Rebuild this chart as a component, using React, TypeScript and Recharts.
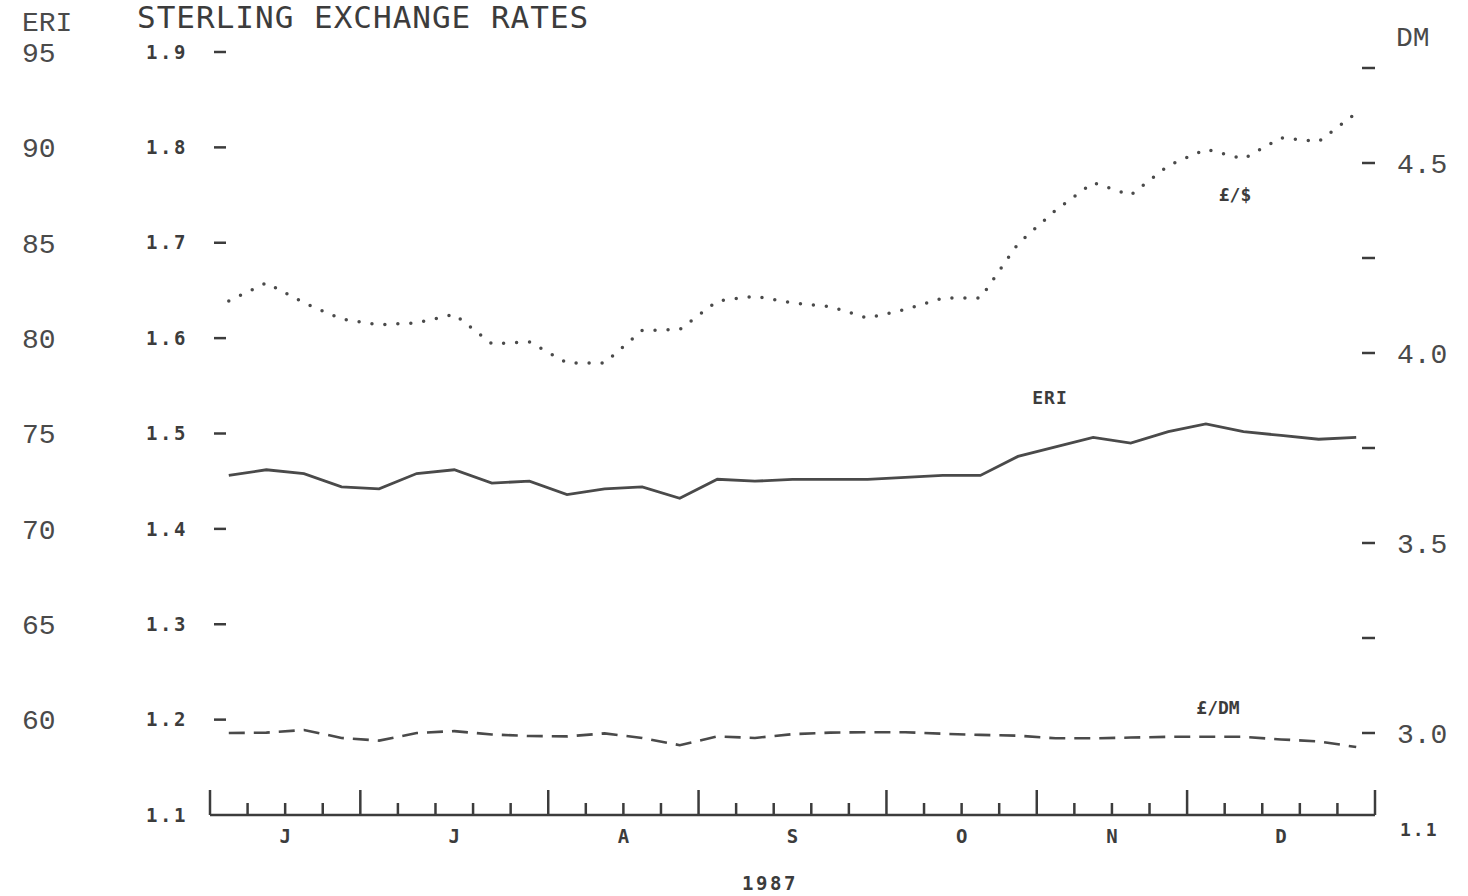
import React from 'react';
import { LineChart, Line, XAxis, YAxis } from 'recharts';

// weekly readings, June - December 1987
const weeks = [1, 2, 3, 4, 5, 6, 7, 8, 9, 10, 11, 12, 13, 14, 15, 16, 17, 18, 19, 20, 21, 22, 23, 24, 25, 26, 27, 28, 29, 30, 31];

const eriIndex = [
  72.8, 73.1, 72.9, 72.2, 72.1, 72.9, 73.1, 72.4, 72.5, 71.8, 72.1, 72.2, 71.6, 72.6, 72.5, 72.6,
  72.6, 72.6, 72.7, 72.8, 72.8, 73.8, 74.3, 74.8, 74.5, 75.1, 75.5, 75.1, 74.9, 74.7, 74.8,
];

const poundDollar = [
  1.639, 1.658, 1.637, 1.62, 1.614, 1.616, 1.625, 1.594, 1.596, 1.574, 1.574, 1.608, 1.609, 1.639, 1.644, 1.637,
  1.633, 1.621, 1.63, 1.642, 1.642, 1.699, 1.734, 1.763, 1.75, 1.781, 1.798, 1.788, 1.81, 1.806, 1.836,
];

const poundMark = [
  3.0, 3.001, 3.008, 2.987, 2.98, 3.0, 3.005, 2.996, 2.992, 2.991, 2.999, 2.987, 2.968, 2.991, 2.987, 2.997,
  3.001, 3.002, 3.002, 2.998, 2.995, 2.993, 2.986, 2.986, 2.988, 2.99, 2.99, 2.99, 2.983, 2.978, 2.963,
];

const monthStarts = [0, 4, 9, 13, 18, 22, 26, 31];
const monthLabels = ['J', 'J', 'A', 'S', 'O', 'N', 'D'];
const weekTicks = [0, 1, 2, 3, 4, 5, 6, 7, 8, 9, 10, 11, 12, 13, 14, 15, 16, 17, 18, 19, 20, 21, 22, 23, 24, 25, 26, 27, 28, 29, 30, 31];
const eriTicks = [60, 65, 70, 75, 80, 85, 90, 95];
const dollarTicks = [1.1, 1.2, 1.3, 1.4, 1.5, 1.6, 1.7, 1.8, 1.9];
const markTicks = [3.0, 3.25, 3.5, 3.75, 4.0, 4.25, 4.5, 4.75];
const markLabelled = [3.0, 3.5, 4.0, 4.5];

const monthMids = monthLabels.map((_, i) => (monthStarts[i] + monthStarts[i + 1]) / 2);
const xTicks = Array.from(new Set([...weekTicks, ...monthMids])).sort((a, b) => a - b);

const data = weeks.map((w, i) => ({
  x: w - 0.5,
  eri: eriIndex[i],
  usd: poundDollar[i],
  dm: poundMark[i],
}));

const ink = '#3c3c3c';
const lineInk = '#4a4a4a';
const typewriter = '"Liberation Mono", "DejaVu Sans Mono", monospace';
const matrix = '"DejaVu Sans Mono", monospace';

const WeekTick = (props: any) => {
  const { x, y, payload } = props;
  const v = payload.value;
  const big = monthStarts.includes(v);
  const m = monthMids.indexOf(v);
  return (
    <g>
      {Number.isInteger(v) && (
        <line x1={x} x2={x} y1={y} y2={y - (big ? 25 : 12)} stroke={ink} strokeWidth={2.5} />
      )}
      {m >= 0 && (
        <text x={x} y={y + 21} dy="0.35em" textAnchor="middle" fontFamily={matrix} fontWeight="bold"
          fontSize={19} fill={ink}>
          {monthLabels[m]}
        </text>
      )}
    </g>
  );
};

const EriTick = (props: any) => {
  const { y, payload } = props;
  return (
    <text x={22} y={y} dy="0.35em" fontFamily={typewriter} fontSize={28} fill="#4a4a4a">
      {payload.value}
    </text>
  );
};

const DollarTick = (props: any) => {
  const { y, payload } = props;
  const v = payload.value;
  return (
    <g>
      <text x={146} y={y} dy="0.35em" fontFamily={matrix} fontWeight="bold" fontSize={19}
        letterSpacing={2.5} fill={ink}>
        {v.toFixed(1)}
      </text>
      {v > 1.1 && <line x1={214} x2={226} y1={y} y2={y} stroke={ink} strokeWidth={2.5} />}
    </g>
  );
};

const MarkTick = (props: any) => {
  const { y, payload } = props;
  const v = payload.value;
  return (
    <g>
      <line x1={1362} x2={1375} y1={y} y2={y} stroke={ink} strokeWidth={2.5} />
      {markLabelled.includes(v) && (
        <text x={1397} y={y} dy="0.35em" fontFamily={typewriter} fontSize={28} fill="#4a4a4a">
          {v.toFixed(1)}
        </text>
      )}
    </g>
  );
};

const App: React.FC = () => {
  return (
    <div style={{ position: 'fixed', left: 0, top: 0, width: 1468, height: 896, background: '#fff' }}>
      <LineChart width={1468} height={896} data={data} margin={{ top: 52, right: 0, bottom: 51, left: 0 }}>
        <XAxis dataKey="x" type="number" domain={[0, 31]} ticks={xTicks} interval={0} tick={<WeekTick />}
          tickLine={false} tickSize={0} tickMargin={0} height={30} axisLine={{ stroke: ink, strokeWidth: 2.5 }} />
        <YAxis yAxisId="eri" orientation="left" width={105} type="number" domain={[55, 95]} ticks={eriTicks}
          interval={0} allowDataOverflow axisLine={false} tickLine={false} tick={<EriTick />} />
        <YAxis yAxisId="usd" orientation="left" width={105} type="number" domain={[1.1, 1.9]} ticks={dollarTicks}
          interval={0} allowDataOverflow axisLine={false} tickLine={false} tick={<DollarTick />} />
        <YAxis yAxisId="dm" orientation="right" width={93} type="number" domain={[2.7842, 4.7921]} ticks={markTicks}
          interval={0} allowDataOverflow axisLine={false} tickLine={false} tick={<MarkTick />} />

        <Line yAxisId="usd" dataKey="usd" type="linear" stroke={lineInk} strokeWidth={3.5}
          strokeDasharray="0 13" strokeLinecap="round" dot={false} isAnimationActive={false} />
        <Line yAxisId="eri" dataKey="eri" type="linear" stroke={lineInk} strokeWidth={2.8}
          dot={false} isAnimationActive={false} />
        <Line yAxisId="dm" dataKey="dm" type="linear" stroke={lineInk} strokeWidth={2.6}
          strokeDasharray="16 9" dot={false} isAnimationActive={false} />

        <text x={137} y={28} fontFamily={matrix} fontSize={31} letterSpacing={1} fill={ink}>STERLING EXCHANGE RATES</text>
        <text x={22} y={31} fontFamily={typewriter} fontSize={28} fill="#4a4a4a">ERI</text>
        <text x={1396} y={46} fontFamily={typewriter} fontSize={28} fill="#4a4a4a">DM</text>
        <text x={1235} y={195} dy="0.35em" textAnchor="middle" fontFamily={matrix} fontWeight="bold"
          fontSize={18} fill={ink}>£/$</text>
        <text x={1050} y={398} dy="0.35em" textAnchor="middle" fontFamily={matrix} fontWeight="bold"
          fontSize={18} letterSpacing={1} fill={ink}>ERI</text>
        <text x={1218} y={708} dy="0.35em" textAnchor="middle" fontFamily={matrix} fontWeight="bold"
          fontSize={18} fill={ink}>£/DM</text>
        <text x={1400} y={830} dy="0.35em" fontFamily={matrix} fontWeight="bold" fontSize={18}
          letterSpacing={2} fill={ink}>1.1</text>
        <text x={770} y={883} dy="0.35em" textAnchor="middle" fontFamily={matrix} fontWeight="bold"
          fontSize={19} letterSpacing={2.5} fill={ink}>1987</text>
      </LineChart>
    </div>
  );
};

export default App;
